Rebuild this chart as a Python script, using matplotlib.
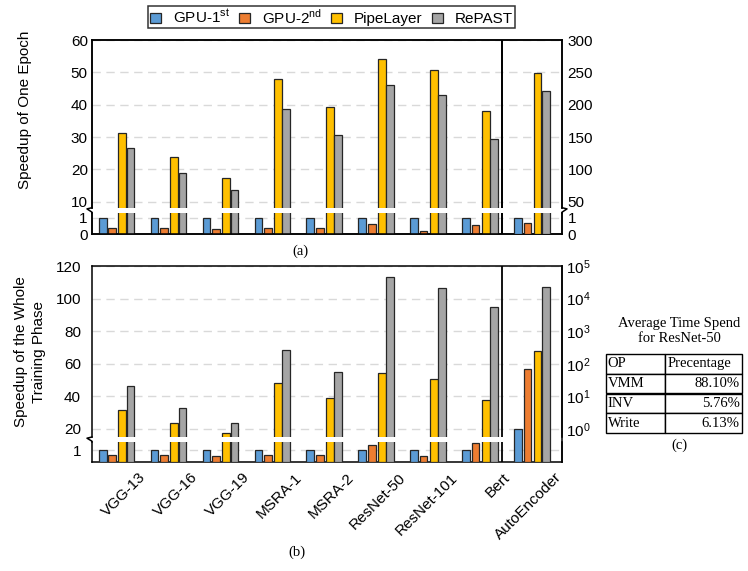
import matplotlib.pyplot as plt
import numpy as np
from matplotlib.lines import Line2D
from matplotlib.patches import Patch
from matplotlib.transforms import ScaledTranslation

plt.rcParams['font.family'] = ['Liberation Sans', 'DejaVu Sans']
plt.rcParams['font.size'] = 11
plt.rcParams['mathtext.fontset'] = 'custom'
plt.rcParams['mathtext.rm'] = 'Liberation Sans'

models = ["VGG-13", "VGG-16", "VGG-19", "MSRA-1", "MSRA-2", "ResNet-50", "ResNet-101", "Bert", "AutoEncoder"]
series = ["GPU-1$^{\\mathrm{st}}$", "GPU-2$^{\\mathrm{nd}}$", "PipeLayer", "RePAST"]
colors = ["#5B9BD5", "#ED7D31", "#FFC000", "#A5A5A5"]

# (a) speedup of one epoch -- last value (AutoEncoder) is read on the right axis
epoch_gpu1 = [1, 1, 1, 1, 1, 1, 1, 1, 1]
epoch_gpu2 = [0.34, 0.34, 0.28, 0.34, 0.34, 0.62, 0.18, 0.54, 0.67]
epoch_pipe = [31.4, 23.8, 17.4, 48.1, 39.2, 54.1, 50.6, 38.0, 249]
epoch_repast = [26.5, 19.0, 13.6, 38.6, 30.7, 46.2, 42.9, 29.4, 221]

# (b) speedup of the whole training phase -- AutoEncoder on the right (log) axis
train_gpu1 = [1, 1, 1, 1, 1, 1, 1, 1, 1]
train_gpu2 = [0.62, 0.62, 0.53, 0.62, 0.62, 1.47, 0.5, 1.64, 68]
train_pipe = [31.6, 23.8, 17.6, 48.0, 39.2, 54.1, 50.6, 38.0, 247]
train_repast = [46.3, 33.0, 23.8, 68.3, 54.8, 113.5, 106.3, 94.8, 22000]

# (c) table
table_title = "Average Time Spend\nfor ResNet-50"
table_rows = [["OP", "Precentage"], ["VMM", "88.10%"], ["INV", "5.76%"], ["Write", "6.13%"]]

W, H = 748, 571
fig = plt.figure(figsize=(W / 100, H / 100), dpi=100)

def rect(x0, y0, x1, y1):
    return [x0 / W, 1 - y1 / H, (x1 - x0) / W, (y1 - y0) / H]

x = np.arange(len(models))
offsets = [-0.275, -0.095, 0.1, 0.262]
width = 0.15
xlim = (-0.48, 8.57)
sep = 7.42
left_idx = slice(0, 8)
right_idx = slice(8, 9)
edge = '#262626'

def bars(ax, vals_list, idx, bottom=0):
    for k, (vals, c) in enumerate(zip(vals_list, colors)):
        v = np.array(vals, dtype=float)[idx]
        ax.bar(x[idx] + offsets[k], v - bottom, width, bottom=bottom, color=c,
               edgecolor=edge, linewidth=0.9, zorder=3)

def style(ax, top=True, bottom=True, pad=3):
    ax.set_xlim(*xlim)
    ax.tick_params(length=0, pad=pad)
    ax.set_xticks([])
    ax.spines['top'].set_visible(top)
    ax.spines['bottom'].set_visible(bottom)
    for s in ax.spines.values():
        s.set_linewidth(1.1)
    ax.axvline(sep, color='black', lw=1.3, zorder=4)

def grid(ax):
    ax.yaxis.grid(True, ls=(0, (6, 4)), color='#d9d9d9', lw=1)
    ax.set_axisbelow(True)

# ---- panel (a) ----
epoch = [epoch_gpu1, epoch_gpu2, epoch_pipe, epoch_repast]
a_up = fig.add_axes(rect(92, 40, 562, 207.7))
a_lo = fig.add_axes(rect(92, 213, 562, 234))
bars(a_up, epoch, left_idx)
bars(a_lo, epoch, left_idx)
a_up.set_ylim(8.2, 60)
a_up.set_yticks([10, 20, 30, 40, 50, 60])
a_lo.set_ylim(0, 1.29)
a_lo.set_yticks([0, 1])
style(a_up, bottom=False)
style(a_lo, top=False)
grid(a_up)
grid(a_lo)
ta_up = a_up.twinx()
ta_lo = a_lo.twinx()
bars(ta_up, epoch, right_idx)
bars(ta_lo, epoch, right_idx)
ta_up.set_ylim(41, 300)
ta_up.set_yticks([50, 100, 150, 200, 250, 300])
ta_lo.set_ylim(0, 1.29)
ta_lo.set_yticks([0, 1])
style(ta_up, bottom=False, pad=4)
style(ta_lo, top=False, pad=4)

# ---- panel (b) ----
train = [train_gpu1, train_gpu2, train_pipe, train_repast]
b_up = fig.add_axes(rect(92, 266, 562, 437))
b_lo = fig.add_axes(rect(92, 442, 562, 462))
bars(b_up, train, left_idx)
bars(b_lo, train, left_idx)
b_up.set_ylim(15, 120)
b_up.set_yticks([20, 40, 60, 80, 100, 120])
b_lo.set_ylim(0, 1.73)
b_lo.set_yticks([1])
style(b_up, bottom=False, pad=8)
style(b_lo, top=False, pad=8)
grid(b_up)
grid(b_lo)
b_log = fig.add_axes(rect(92, 266, 562, 462))
b_log.patch.set_alpha(0)
b_log.set_yscale('log')
bars(b_log, train, right_idx, bottom=0.1)
b_log.set_ylim(0.1, 1e5)
b_log.yaxis.tick_right()
b_log.set_yticks([1, 10, 100, 1e3, 1e4, 1e5])
b_log.minorticks_off()
b_log.set_xlim(*xlim)
b_log.set_xticks([])
b_log.tick_params(length=0, pad=3)
for s in ['top', 'bottom', 'left']:
    b_log.spines[s].set_visible(False)
b_log.spines['right'].set_linewidth(1.1)

b_lo.set_xticks(x)
b_lo.set_xticklabels(models, rotation=45, ha='right', va='top', rotation_mode='anchor', fontsize=11)
b_lo.tick_params(axis='x', length=0, pad=6)
for lab in b_lo.get_xticklabels():
    lab.set_transform(lab.get_transform() + ScaledTranslation(0.22, 0, fig.dpi_scale_trans))

# break marks on the spines
def zig(xp, y0, y1, d):
    pts_x = [xp, xp + d, xp, xp]
    pts_y = [y0, y0 + 1.2, y1 - 0.8, y1]
    fig.add_artist(Line2D([p / W for p in pts_x], [1 - p / H for p in pts_y],
                          color='black', lw=1.1, transform=fig.transFigure))

zig(92, 207.7, 213, -5)
zig(562, 207.7, 213, 5)
zig(92, 437, 442, -5)

# axis labels and captions
fig.text(25 / W, 1 - 110 / H, "Speedup of One Epoch", rotation=90, ha='center', va='center')
fig.text(30 / W, 1 - 352 / H, "Speedup of the Whole\nTraining Phase", rotation=90,
         ha='center', va='center', multialignment='center', linespacing=1.4)
serif = ['Liberation Serif', 'DejaVu Serif']
fig.text(300 / W, 1 - 251 / H, "(a)", family=serif, fontsize=10.5, ha='center', va='center')
fig.text(297 / W, 1 - 552 / H, "(b)", family=serif, fontsize=10.5, ha='center', va='center')

handles = [Patch(facecolor=c, edgecolor=edge, linewidth=0.9) for c in colors]
leg = fig.legend(handles, series, ncol=4, loc='upper center', bbox_to_anchor=(331.5 / W, 1 - 6 / H),
                 frameon=True, fancybox=False, edgecolor='black', handlelength=0.7, handleheight=0.7,
                 handletextpad=0.8, columnspacing=0.6, borderpad=0.12, borderaxespad=0, fontsize=11)
leg.get_frame().set_linewidth(1.1)

# table (c)
fig.text(679 / W, 1 - 331 / H, table_title, family=serif, fontsize=10.5, ha='center', va='center',
         multialignment='center', linespacing=1.3)
t_ax = fig.add_axes(rect(606, 354, 742, 433))
t_ax.axis('off')
tbl = t_ax.table(cellText=table_rows, cellLoc='left', bbox=[0, 0, 1, 1], colWidths=[59, 77])
tbl.auto_set_font_size(False)
for (r, c), cell in tbl.get_celld().items():
    cell.set_linewidth(1)
    cell.get_text().set_fontfamily(serif)
    cell.get_text().set_fontsize(10.5)
    cell.PAD = 0.03
    if c == 1 and r > 0:
        cell._loc = 'right'
        cell.get_text().set_ha('right')
fig.text(679 / W, 1 - 445 / H, "(c)", family=serif, fontsize=10.5, ha='center', va='center')

fig.savefig("out.png", dpi=100)
